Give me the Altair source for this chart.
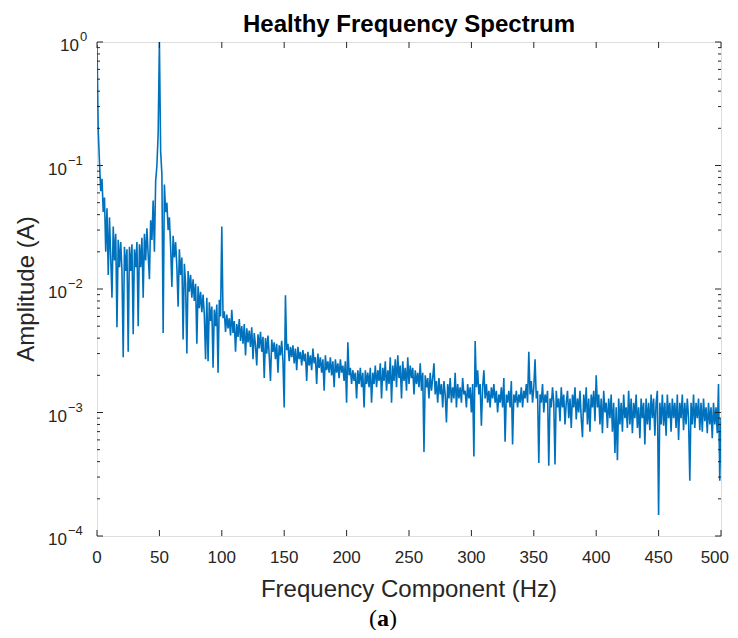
import altair as alt
import pandas as pd

# ---------------- data (1 Hz steps) ----------------
amp_000_049 = [0.95, 0.19, 0.105, 0.062, 0.078, 0.042, 0.055, 0.02, 0.045, 0.013,
               0.038, 0.018, 0.0085, 0.032, 0.017, 0.028, 0.0049, 0.025, 0.015, 0.024,
               0.014, 0.0028, 0.022, 0.014, 0.021, 0.0031, 0.022, 0.014, 0.023, 0.0043,
               0.021, 0.015, 0.024, 0.005, 0.023, 0.015, 0.026, 0.0085, 0.028, 0.017,
               0.031, 0.019, 0.012, 0.036, 0.025, 0.052, 0.02, 0.075, 0.1, 0.18]
amp_050_099 = [1.0, 0.13, 0.085, 0.0044, 0.07, 0.042, 0.05, 0.03, 0.038, 0.022,
               0.0104, 0.027, 0.018, 0.024, 0.015, 0.0072, 0.021, 0.013, 0.018, 0.0039,
               0.016, 0.011, 0.003, 0.014, 0.0095, 0.013, 0.0085, 0.012, 0.008, 0.011,
               0.0036, 0.0105, 0.007, 0.0095, 0.0065, 0.009, 0.0062, 0.0027, 0.0085, 0.0026,
               0.0078, 0.0055, 0.0072, 0.0023, 0.0068, 0.005, 0.0075, 0.0021, 0.0082, 0.006]
amp_100_149 = [0.032, 0.0058, 0.0066, 0.0045, 0.0062, 0.0048, 0.0058, 0.0042, 0.0068, 0.0044,
               0.0055, 0.0031, 0.0052, 0.0041, 0.0057, 0.0038, 0.005, 0.0036, 0.0052, 0.0029,
               0.0048, 0.0037, 0.0046, 0.0034, 0.0049, 0.0027, 0.0044, 0.0035, 0.0024, 0.0043,
               0.0033, 0.0045, 0.0031, 0.0041, 0.0019, 0.004, 0.003, 0.0042, 0.0029, 0.0018,
               0.0039, 0.0031, 0.0037, 0.0027, 0.0036, 0.0021, 0.0035, 0.0029, 0.0038, 0.0026]
amp_150_199 = [0.0011, 0.0089, 0.0032, 0.0036, 0.0026, 0.0034, 0.0028, 0.0035, 0.0025, 0.0033,
               0.0022, 0.0034, 0.0027, 0.0031, 0.0024, 0.0032, 0.0026, 0.003, 0.0018, 0.0031,
               0.0024, 0.0029, 0.0022, 0.0033, 0.0025, 0.0028, 0.0017, 0.003, 0.0023, 0.0028,
               0.0021, 0.0027, 0.0015, 0.0029, 0.0022, 0.0026, 0.0021, 0.0028, 0.002, 0.0026,
               0.0016, 0.0027, 0.0021, 0.0025, 0.0019, 0.0027, 0.0021, 0.0024, 0.0018, 0.0026]
amp_200_249 = [0.0012, 0.0037, 0.002, 0.0023, 0.0017, 0.0022, 0.0018, 0.0021, 0.0013, 0.0022,
               0.0017, 0.0023, 0.0016, 0.0021, 0.0011, 0.0022, 0.0017, 0.0021, 0.0016, 0.0023,
               0.0012, 0.0021, 0.0017, 0.0024, 0.0016, 0.0022, 0.0018, 0.0025, 0.0013, 0.0023,
               0.0018, 0.0026, 0.0015, 0.0022, 0.0017, 0.0028, 0.0012, 0.0024, 0.0018, 0.0027,
               0.0016, 0.0029, 0.0019, 0.0024, 0.0013, 0.0026, 0.0018, 0.0023, 0.0015, 0.0028]
amp_250_299 = [0.0017, 0.0024, 0.0019, 0.0023, 0.0014, 0.0022, 0.0017, 0.0021, 0.0016, 0.0025,
               0.0015, 0.0021, 0.00048, 0.002, 0.0016, 0.0019, 0.0013, 0.0021, 0.0015, 0.0019,
               0.0025, 0.0014, 0.0018, 0.0012, 0.0019, 0.0014, 0.0017, 0.0011, 0.0018, 0.0014,
               0.00083, 0.0017, 0.0013, 0.0019, 0.0012, 0.0016, 0.0013, 0.0021, 0.0011, 0.0017,
               0.0013, 0.0016, 0.0012, 0.0019, 0.0014, 0.0015, 0.0011, 0.0017, 0.0013, 0.0016]
amp_300_349 = [0.001, 0.0017, 0.00044, 0.0038, 0.0016, 0.0022, 0.0014, 0.0017, 0.00078, 0.0016,
               0.0022, 0.0013, 0.0017, 0.0012, 0.0015, 0.0011, 0.0016, 0.0013, 0.0017, 0.0012,
               0.0015, 0.001, 0.0014, 0.0012, 0.0016, 0.0011, 0.0019, 0.00058, 0.0014, 0.0012,
               0.0015, 0.0011, 0.0018, 0.00055, 0.0014, 0.0012, 0.0015, 0.0011, 0.0014, 0.0012,
               0.0016, 0.0011, 0.0015, 0.0013, 0.0017, 0.0012, 0.0031, 0.0014, 0.0018, 0.0012]
amp_350_399 = [0.0016, 0.0027, 0.0013, 0.0015, 0.00039, 0.0014, 0.0012, 0.0017, 0.001, 0.0014,
               0.0012, 0.0015, 0.00037, 0.0013, 0.0011, 0.0016, 0.0012, 0.00038, 0.0015, 0.0011,
               0.0013, 0.00085, 0.0016, 0.0011, 0.0014, 0.0008, 0.0012, 0.0015, 0.0009, 0.0013,
               0.00075, 0.0014, 0.0011, 0.0016, 0.00088, 0.0013, 0.001, 0.0015, 0.0009, 0.00063,
               0.0014, 0.001, 0.0016, 0.0008, 0.0013, 0.0007, 0.0014, 0.0011, 0.0015, 0.00085]
amp_400_449 = [0.002, 0.0011, 0.0014, 0.0008, 0.0013, 0.00068, 0.0015, 0.001, 0.0012, 0.00075,
               0.0013, 0.0009, 0.0014, 0.0007, 0.0012, 0.00047, 0.0011, 0.00041, 0.0013, 0.0008,
               0.0012, 0.0007, 0.0014, 0.0009, 0.0011, 0.00075, 0.0015, 0.0008, 0.0013, 0.00068,
               0.0012, 0.0009, 0.0014, 0.00075, 0.0011, 0.00062, 0.0013, 0.0009, 0.0012, 0.00055,
               0.0013, 0.0008, 0.0012, 0.00072, 0.0014, 0.0009, 0.0013, 0.00065, 0.0012, 0.0015]
amp_450_500 = [0.000148, 0.0012, 0.0008, 0.0014, 0.00078, 0.0012, 0.00065, 0.0014, 0.0009, 0.0012,
               0.0007, 0.0013, 0.0009, 0.0012, 0.00075, 0.0014, 0.0006, 0.0012, 0.0009, 0.0014,
               0.00072, 0.0012, 0.0008, 0.0013, 0.0009, 0.00028, 0.0012, 0.0008, 0.0014, 0.00075,
               0.0012, 0.0009, 0.0013, 0.00072, 0.0012, 0.0007, 0.0013, 0.00085, 0.0011, 0.00068,
               0.0012, 0.0008, 0.0011, 0.00062, 0.0012, 0.0008, 0.0011, 0.00068, 0.0017, 0.00028,
               0.0009]

amplitude = (amp_000_049 + amp_050_099 + amp_100_149 + amp_150_199 + amp_200_249
             + amp_250_299 + amp_300_349 + amp_350_399 + amp_400_449 + amp_450_500)
frequency = list(range(0, len(amplitude)))

x_tick_values = [0, 50, 100, 150, 200, 250, 300, 350, 400, 450, 500]
y_decades = [1e-4, 1e-3, 1e-2, 1e-1, 1.0]
y_exponents = ["\u22124", "\u22123", "\u22122", "\u22121", "0"]
y_minor = [m * d for d in [1e-4, 1e-3, 1e-2, 1e-1] for m in range(2, 10)]

title_text = "Healthy Frequency Spectrum"
x_title = "Frequency Component (Hz)"
y_title = "Amplitude (A)"

# ---------------- styling ----------------
W, H = 624, 494
FONT = "Liberation Sans"
AX = "#262626"
LINE = "#0072BD"

xs = alt.Scale(domain=[0, 500], nice=False, zero=False)
ys = alt.Scale(type="log", domain=[1e-4, 1.0], nice=False)

df = pd.DataFrame({"f": frequency, "a": amplitude})

line = alt.Chart(df).mark_line(color=LINE, strokeWidth=1.6, clip=True).encode(
    x=alt.X("f:Q", scale=xs, axis=None),
    y=alt.Y("a:Q", scale=ys, axis=None),
)

xt = pd.DataFrame({"t": x_tick_values})
xtick_bottom = alt.Chart(xt).mark_rule(color=AX, strokeWidth=1).encode(
    x=alt.X("t:Q", scale=xs, axis=None), y=alt.value(H), y2=alt.value(H - 6))
xtick_top = alt.Chart(xt).mark_rule(color=AX, strokeWidth=1).encode(
    x=alt.X("t:Q", scale=xs, axis=None), y=alt.value(0), y2=alt.value(6))
xtick_labels = alt.Chart(xt).transform_filter("datum.t < 500").mark_text(
    baseline="middle", align="center", font=FONT, fontSize=17, color=AX).encode(
    x=alt.X("t:Q", scale=xs, axis=None), y=alt.value(H + 22),
    text=alt.Text("t:Q", format="d"))
xtick_label_last = alt.Chart(xt).transform_filter("datum.t >= 500").mark_text(
    baseline="middle", align="right", dx=8, font=FONT, fontSize=17, color=AX).encode(
    x=alt.X("t:Q", scale=xs, axis=None), y=alt.value(H + 22),
    text=alt.Text("t:Q", format="d"))

ymaj = pd.DataFrame({"v": y_decades, "e": y_exponents})
ymin = pd.DataFrame({"v": y_minor})


def ytick(data, x0, x1):
    return alt.Chart(data).mark_rule(color=AX, strokeWidth=1).encode(
        y=alt.Y("v:Q", scale=ys, axis=None), x=alt.value(x0), x2=alt.value(x1))


ticks_y = [ytick(ymaj, 0, 6), ytick(ymaj, W - 6, W), ytick(ymin, 0, 3), ytick(ymin, W - 3, W)]


def ylabel(flt, xb):
    base = alt.Chart(ymaj).transform_filter(flt).mark_text(
        align="right", baseline="middle", dy=4, font=FONT, fontSize=17, color=AX).encode(
        y=alt.Y("v:Q", scale=ys, axis=None), x=alt.value(xb), text=alt.value("10"))
    exp = alt.Chart(ymaj).transform_filter(flt).mark_text(
        align="left", baseline="middle", dy=-5, font=FONT, fontSize=13, color=AX).encode(
        y=alt.Y("v:Q", scale=ys, axis=None), x=alt.value(xb + 1), text="e:N")
    return [base, exp]


labels_y = ylabel("datum.v < 0.5", -30) + ylabel("datum.v >= 0.5", -18)

one = pd.DataFrame({"k": [0]})


def label(txt, x, y, size, weight="normal", font=FONT, color=AX, align="center",
          baseline="middle", angle=0):
    return alt.Chart(one).mark_text(align=align, baseline=baseline, font=font, fontSize=size,
                                    fontWeight=weight, color=color, angle=angle).encode(
        x=alt.value(x), y=alt.value(y), text=alt.value(txt))


title_mark = label(title_text, W / 2, -10, 24, weight="bold", color="black", baseline="alphabetic")
xtitle_mark = label(x_title, W / 2, H + 54, 24)
ytitle_mark = label(y_title, -70, H / 2, 24, angle=270)

cap_y = H + 90
cap_l = label("(", 280, cap_y, 24, font="Liberation Serif", color="black", align="right",
              baseline="alphabetic")
cap_m = label("a", 286, cap_y, 24, weight="bold", font="Liberation Serif", color="black",
              baseline="alphabetic")
cap_r = label(")", 292, cap_y, 24, font="Liberation Serif", color="black", align="left",
              baseline="alphabetic")

chart = alt.layer(
    line, xtick_bottom, xtick_top, xtick_labels, xtick_label_last, *ticks_y, *labels_y,
    title_mark, xtitle_mark, ytitle_mark, cap_l, cap_m, cap_r
).properties(
    width=W, height=H,
    autosize=alt.AutoSizeParams(type="none"),
    padding={"left": 89, "top": 34, "right": 9, "bottom": 94},
).configure_view(stroke=AX, strokeWidth=1).configure(background="white")

chart.save("out.html", embed_options={"renderer": "svg", "actions": False})
